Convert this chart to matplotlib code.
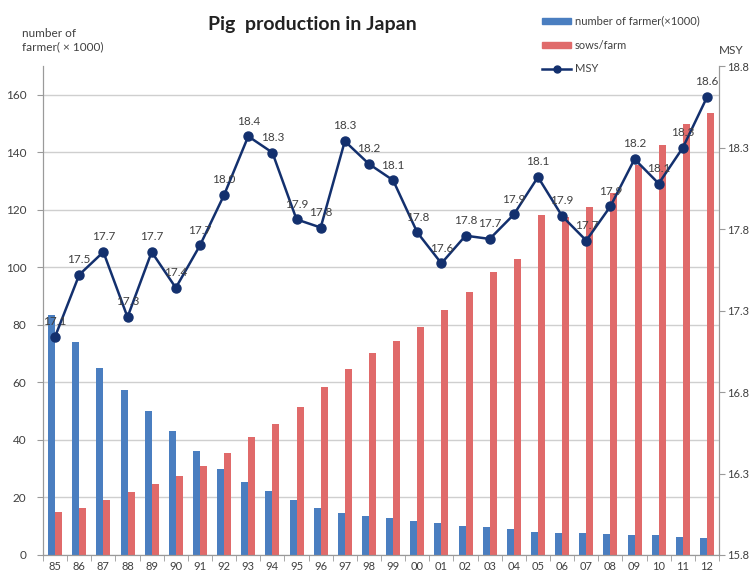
import matplotlib
matplotlib.use("Agg")
import matplotlib.pyplot as plt
from matplotlib.patches import Patch
from matplotlib.lines import Line2D
import numpy as np

plt.rcParams['font.family'] = ['Lato', 'DejaVu Sans']

# data
years = ['85', '86', '87', '88', '89', '90', '91', '92', '93', '94',
         '95', '96', '97', '98', '99', '00', '01', '02', '03', '04',
         '05', '06', '07', '08', '09', '10', '11', '12']
farmers = [83.5, 74.0, 64.9, 57.4, 50.1, 43.1, 36.2, 30.0, 25.4, 22.3,
           19.0, 16.2, 14.7, 13.7, 12.8, 11.9, 11.1, 10.2, 9.7, 8.9,
           7.9, 7.8, 7.6, 7.3, 7.1, 6.8, 6.2, 5.9]
sows_per_farm = [15.0, 16.2, 19.1, 21.8, 24.6, 27.4, 30.8, 35.6, 41.2, 45.5,
                 51.4, 58.6, 64.7, 70.1, 74.6, 79.4, 85.2, 91.6, 98.3, 103.0,
                 118.3, 117.5, 121.2, 125.8, 135.7, 142.6, 149.8, 153.9]
msy = [17.14, 17.52, 17.66, 17.26, 17.66, 17.44, 17.70, 18.01, 18.37, 18.27,
       17.86, 17.81, 18.34, 18.20, 18.10, 17.78, 17.59, 17.76, 17.74, 17.89,
       18.12, 17.88, 17.73, 17.94, 18.23, 18.08, 18.30, 18.61]

blue = '#4A7EC0'
red = '#E06A6A'
navy = '#13306E'
txt = '#404040'
axcol = '#9A9A9A'

fig = plt.figure(figsize=(7.52, 5.75), dpi=100)
ax = fig.add_axes([0.0572, 0.0348, 0.899, 0.850])
ax2 = ax.twinx()

x = np.arange(len(years))
w = 0.29
ax.bar(x - w / 2, farmers, w, color=blue, zorder=2)
ax.bar(x + w / 2, sows_per_farm, w, color=red, zorder=2)

ax.set_xlim(-0.5, len(years) - 0.5)
ax.set_ylim(0, 170)
ax.set_yticks(range(0, 161, 20))
ax.yaxis.grid(True, color='#CFCFCF', linewidth=1, zorder=0)
ax.set_axisbelow(True)

ax.set_xticks(x)
ax.set_xticklabels(years)
ax.set_xticks(np.arange(-0.5, len(years), 1), minor=True)
ax.tick_params(axis='x', which='major', length=0, pad=4, labelsize=8, labelcolor=txt)
ax.tick_params(axis='x', which='minor', length=4, color=axcol, direction='out')
ax.tick_params(axis='y', length=4, color=axcol, labelsize=8.5, labelcolor=txt, pad=8)

for s in ['top']:
    ax.spines[s].set_visible(False)
    ax2.spines[s].set_visible(False)
for s in ['left', 'bottom', 'right']:
    ax.spines[s].set_color(axcol)
    ax2.spines[s].set_color(axcol)

ax2.plot(x, msy, color=navy, linewidth=1.8, marker='o', markersize=6.5, zorder=5)
ax2.set_ylim(15.8, 18.8)
ax2.set_yticks([15.8, 16.3, 16.8, 17.3, 17.8, 18.3, 18.8])
ax2.tick_params(axis='y', length=4, color=axcol, labelsize=8, labelcolor=txt, pad=2)

for xi, v in zip(x, msy):
    ax2.annotate(f'{v:.1f}', (xi, v), xytext=(0, 11), textcoords='offset points',
                 ha='center', va='center', fontsize=8.5, color=txt, zorder=6)

fig.text(0.415, 0.958, 'Pig  production in Japan', ha='center', va='center',
         fontsize=14, fontweight='bold', color='#222222')
fig.text(0.029, 0.93, 'number of\nfarmer( \u00d7 1000)', ha='left', va='center',
         fontsize=8.5, color=txt, linespacing=1.3)
fig.text(0.972, 0.912, 'MSY', ha='center', va='center', fontsize=8.5, color=txt)

handles = [Patch(color=blue), Patch(color=red),
           Line2D([], [], color=navy, marker='o', markersize=5, linewidth=1.8)]
labels = ['number of farmer(\u00d71000)', 'sows/farm', 'MSY']
fig.legend(handles, labels, loc='upper left', bbox_to_anchor=(0.708, 0.99),
           frameon=False, fontsize=8, labelcolor=txt, handlelength=2.6,
           handleheight=0.45, handletextpad=0.3, labelspacing=1.15)

fig.savefig('out.png', dpi=100)
